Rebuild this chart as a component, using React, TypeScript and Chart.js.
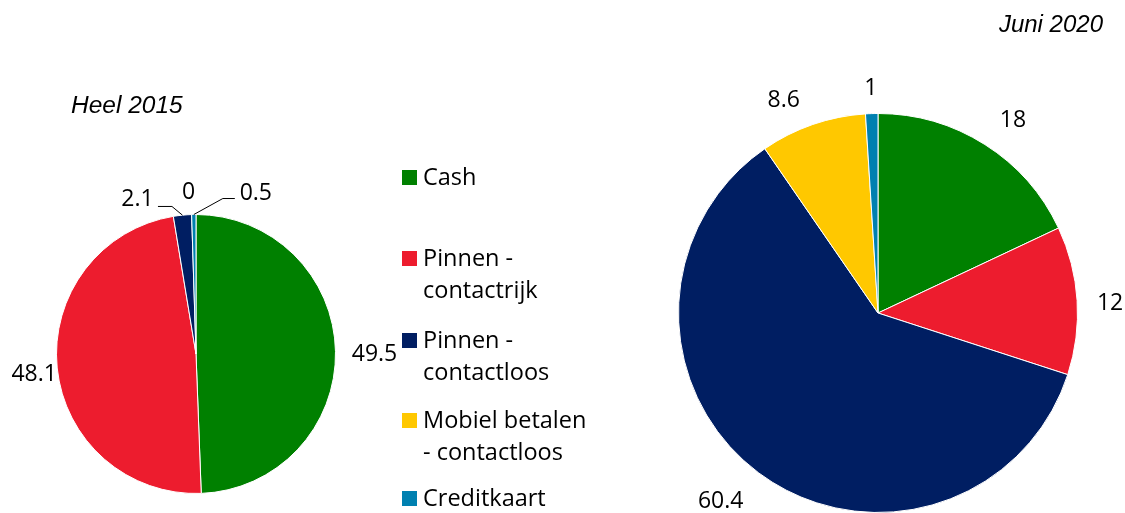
import React, { useEffect, useRef } from "react";
import { Chart, registerables } from "chart.js";

Chart.register(...registerables);

// ---- data ----
const categories = [
  "Cash",
  "Pinnen - contactrijk",
  "Pinnen - contactloos",
  "Mobiel betalen - contactloos",
  "Creditkaart",
];
const legendLines = [
  ["Cash"],
  ["Pinnen -", "contactrijk"],
  ["Pinnen -", "contactloos"],
  ["Mobiel betalen", "- contactloos"],
  ["Creditkaart"],
];
const values2015 = [49.5, 48.1, 2.1, 0, 0.5];
const values2020 = [18, 12, 60.4, 8.6, 1];
const title2015 = "Heel 2015";
const title2020 = "Juni 2020";

// ---- styles / layout ----
const colors = ["#008000", "#ED1C2E", "#001E62", "#FFC800", "#0080B0"];
const W = 1125;
const H = 513;
const labelFont = '23px "Open Sans"';

// label offsets relative to the slice's outer mid-point
const offsets2015: number[][] = [[39, 3], [-23, 6], [-45, -16], [-3, -22], [62, -21]];
const leaders2015: (number[][] | null)[] = [
  null,
  null,
  [[0, 0], [-10.5, -8.7], [-24.5, -8.7]],
  null,
  [[0, 0], [29, -16], [41, -16]],
];
const offsets2020: number[][] = [[28, -24], [33, 3], [-38, 29], [-29, -24], [-1, -25]];
const leaders2020: (number[][] | null)[] = [null, null, null, null, null];

const legendTops = [160, 241, 323, 403, 481];

function makeLabelPlugin(offsets: number[][], leaders: (number[][] | null)[]) {
  return {
    id: "sliceLabels",
    afterDatasetsDraw(chart: any) {
      const ctx = chart.ctx;
      const meta = chart.getDatasetMeta(0);
      const data = chart.data.datasets[0].data;
      ctx.save();
      ctx.font = labelFont;
      ctx.fillStyle = "#000";
      ctx.textAlign = "center";
      ctx.textBaseline = "middle";
      ctx.strokeStyle = "#000";
      ctx.lineWidth = 1;
      meta.data.forEach((arc: any, i: number) => {
        const p = arc.getProps(["x", "y", "startAngle", "endAngle", "outerRadius"], true);
        const mid = (p.startAngle + p.endAngle) / 2;
        const ax = p.x + Math.cos(mid) * p.outerRadius;
        const ay = p.y + Math.sin(mid) * p.outerRadius;
        const [dx, dy] = offsets[i];
        ctx.fillText(String(data[i]), ax + dx, ay + dy);
        const lead = leaders[i];
        if (lead) {
          ctx.beginPath();
          lead.forEach((pt, k) => {
            if (k === 0) ctx.moveTo(ax + pt[0], ay + pt[1]);
            else ctx.lineTo(ax + pt[0], ay + pt[1]);
          });
          ctx.stroke();
        }
      });
      ctx.restore();
    },
  };
}

function PieCanvas(props: {
  values: number[];
  padding: { left: number; top: number; right: number; bottom: number };
  offsets: number[][];
  leaders: (number[][] | null)[];
}) {
  const ref = useRef<HTMLCanvasElement | null>(null);
  useEffect(() => {
    if (!ref.current) return;
    const chart = new Chart(ref.current, {
      type: "pie",
      data: {
        labels: categories,
        datasets: [
          {
            data: props.values,
            backgroundColor: colors,
            borderColor: "#ffffff",
            borderWidth: 1,
          },
        ],
      },
      options: {
        responsive: false,
        animation: false,
        events: [],
        layout: { padding: props.padding },
        plugins: {
          legend: { display: false },
          tooltip: { enabled: false },
          title: { display: false },
        },
      },
      plugins: [makeLabelPlugin(props.offsets, props.leaders)],
    } as any);
    return () => chart.destroy();
  }, []);
  return (
    <canvas
      ref={ref}
      width={W}
      height={H}
      style={{ position: "absolute", left: 0, top: 0, width: W, height: H }}
    />
  );
}

export default function App() {
  return (
    <div
      style={{
        position: "absolute",
        left: 0,
        top: 0,
        width: W,
        height: H,
        background: "#fff",
        overflow: "hidden",
      }}
    >
      <PieCanvas
        values={values2015}
        padding={{ left: 56, top: 214, right: W - 336, bottom: H - 494 }}
        offsets={offsets2015}
        leaders={leaders2015}
      />
      <PieCanvas
        values={values2020}
        padding={{ left: 678, top: 113, right: W - 1078, bottom: 0 }}
        offsets={offsets2020}
        leaders={leaders2020}
      />
      <div
        style={{
          position: "absolute",
          left: 71,
          top: 91,
          font: 'italic 24.5px "Liberation Sans"',
          lineHeight: "28px",
          whiteSpace: "nowrap",
          color: "#000",
        }}
      >
        {title2015}
      </div>
      <div
        style={{
          position: "absolute",
          right: 22,
          top: 10,
          font: 'italic 24px "Liberation Sans"',
          lineHeight: "28px",
          whiteSpace: "nowrap",
          color: "#000",
        }}
      >
        {title2020}
      </div>
      {legendLines.map((lines, i) => (
        <div
          key={i}
          style={{ position: "absolute", left: 402, top: legendTops[i] }}
        >
          <span
            style={{
              position: "absolute",
              left: 0,
              top: 10,
              width: 15,
              height: 15,
              background: colors[i],
            }}
          />
          <div
            style={{
              position: "absolute",
              left: 21,
              top: 0,
              font: '23.5px "Open Sans"',
              lineHeight: "32px",
              whiteSpace: "nowrap",
              color: "#000",
            }}
          >
            {lines.map((l, k) => (
              <div key={k}>{l}</div>
            ))}
          </div>
        </div>
      ))}
    </div>
  );
}
